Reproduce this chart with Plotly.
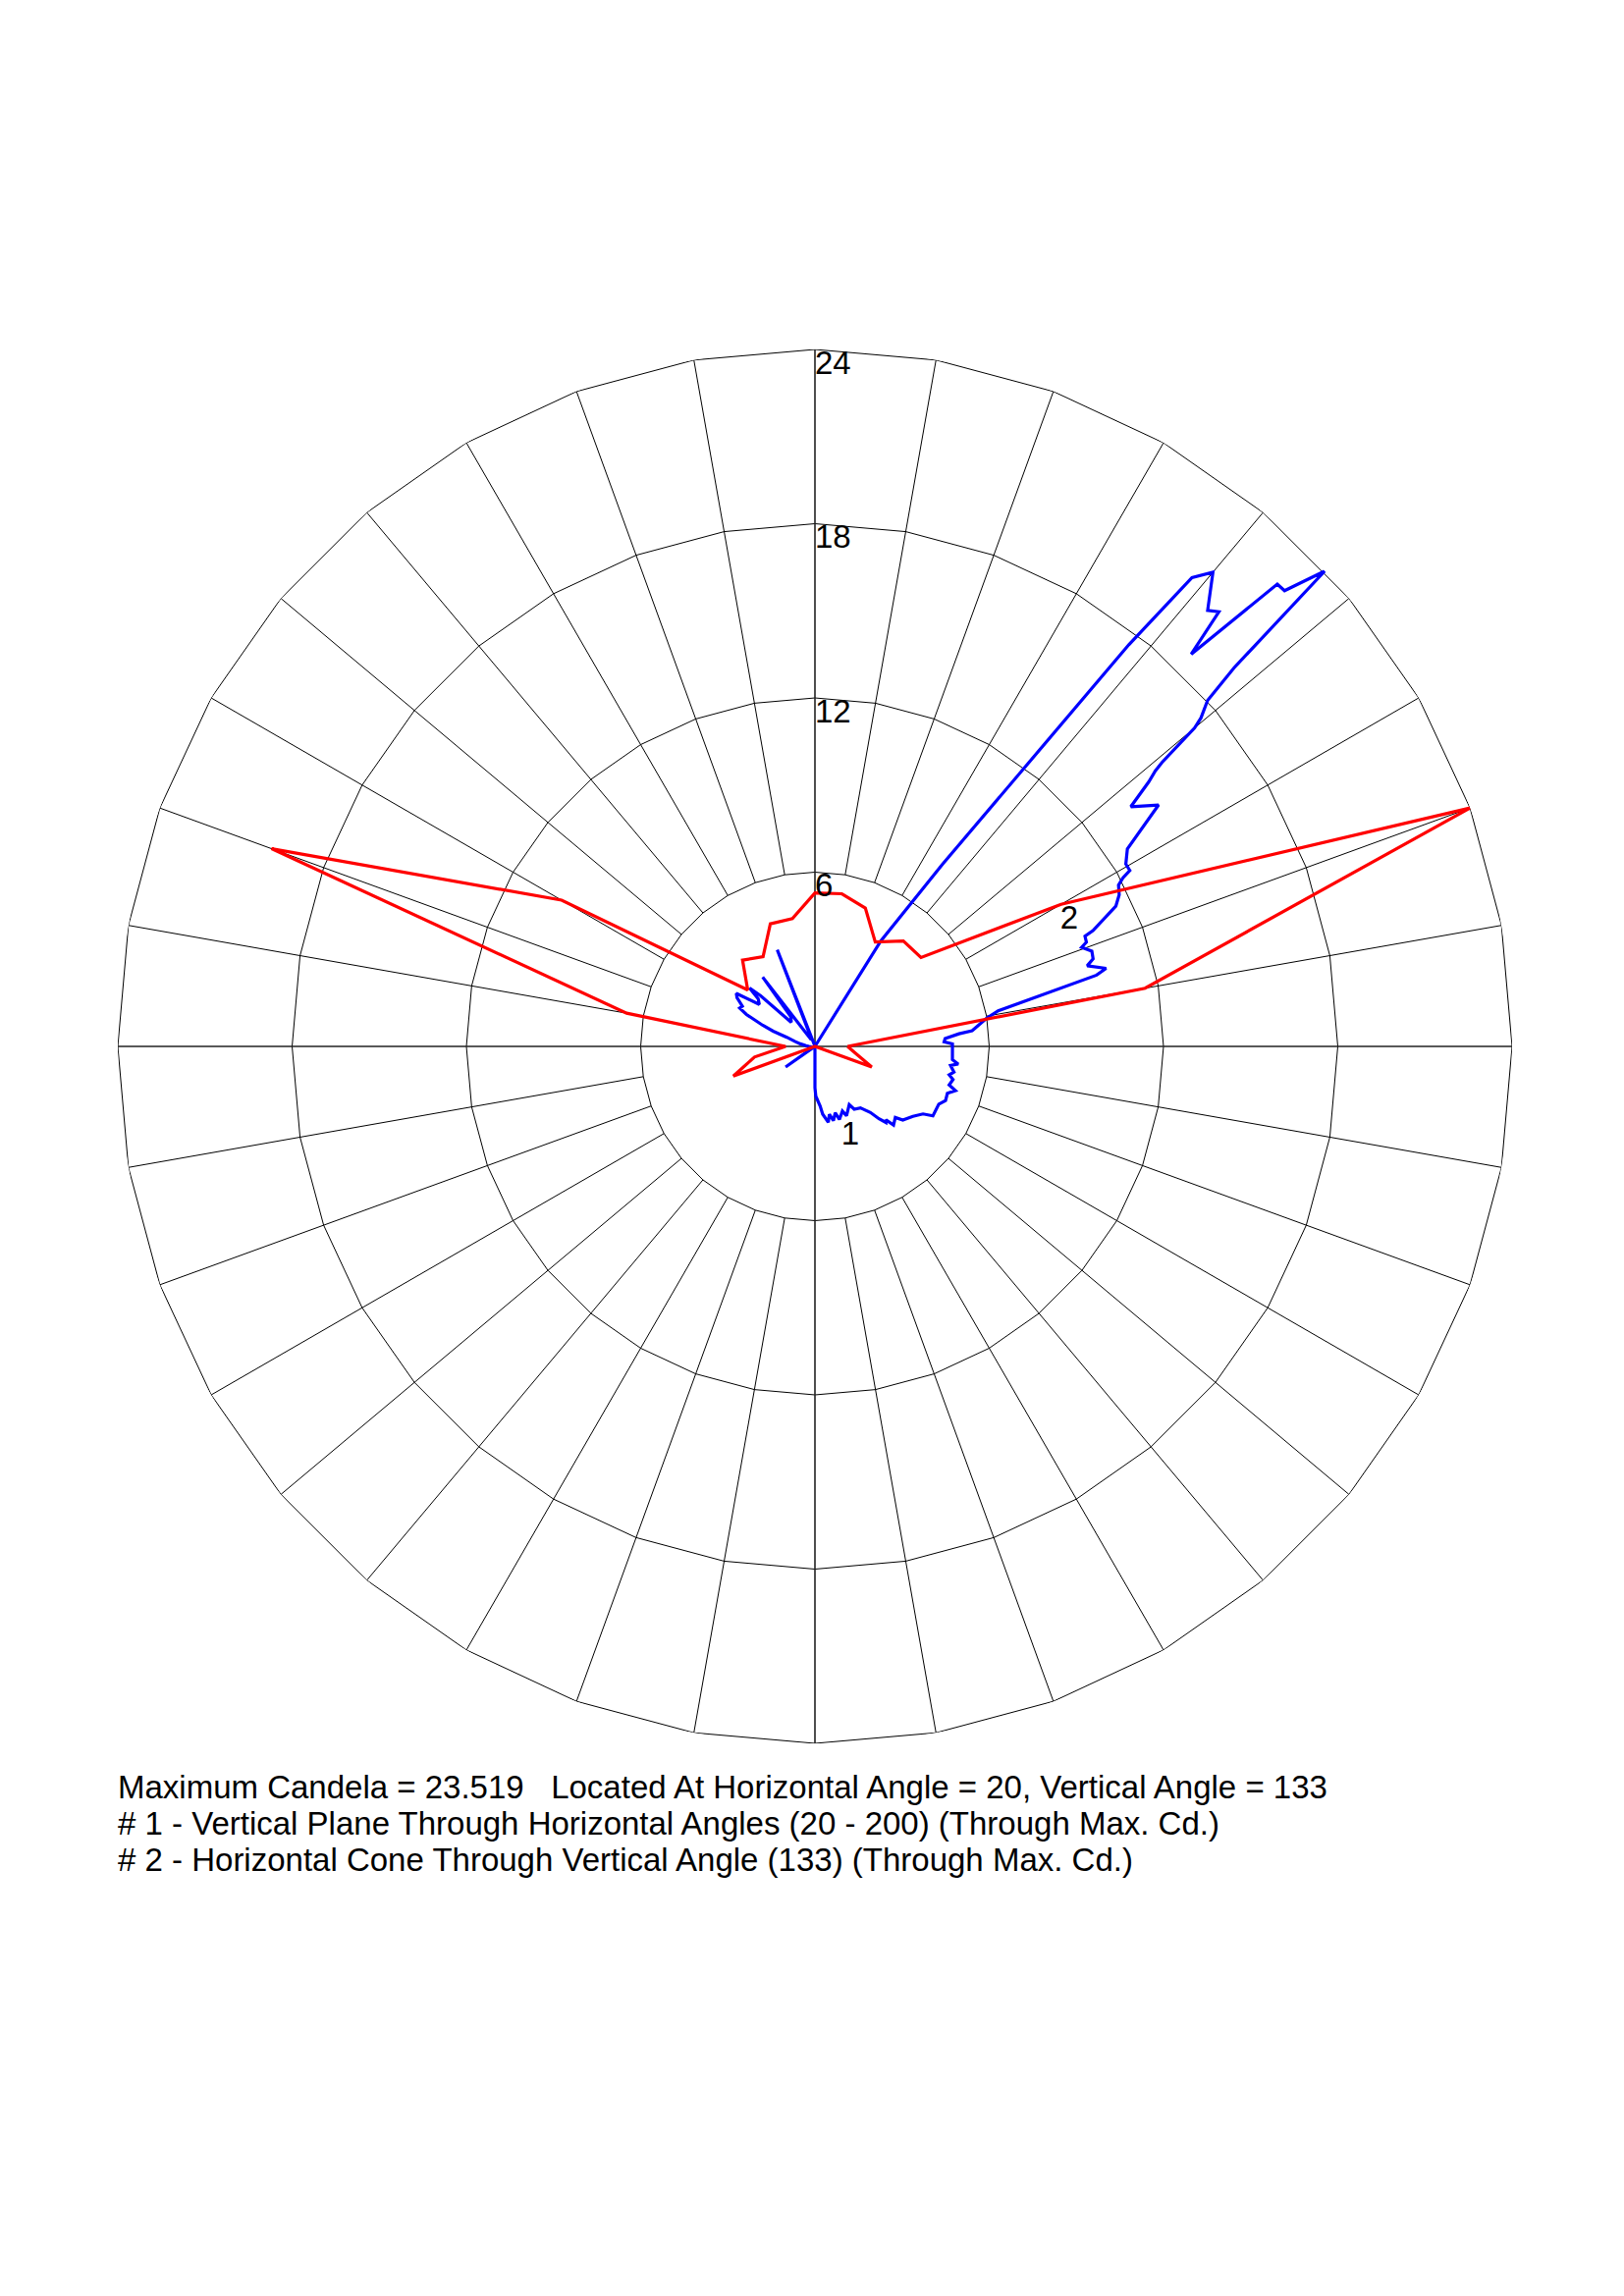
import plotly.graph_objects as go

# ---------------- data ----------------
R_MAX = 23.519                      # maximum candela (outer ring)
ring_values = [R_MAX * k / 4 for k in (1, 2, 3, 4)]
ring_labels = ["6", "12", "18", "24"]

# Curve #2 : horizontal cone through vertical angle 133 (horizontal angle, candela)
red_h = [0, 10, 20, 30, 40, 50, 60, 70, 80, 90, 100, 110, 120, 130, 140, 150, 160, 170,
         180, 190, 200, 210, 220, 230, 240, 250, 260, 270, 280, 290, 300, 310, 320, 330,
         340, 350, 360]
red_cd = [1.10, 11.31, 23.519, 9.59, 4.67, 4.64, 4.07, 4.97, 5.23, 5.18, 4.38, 4.40, 3.50,
          3.80, 2.96, 9.87, 19.51, 6.45, 0.99, 2.07, 2.93, 0, 0, 0, 0, 0, 0, 0, 0, 0, 0, 0,
          0, 0, 2.04, 1.40, 1.10]

# Curve #1 : vertical plane, horizontal angle 20 side (vertical angle, candela)
blue20_v = [0, 0, 1, 5, 6.5, 10, 12, 14, 17, 18.5, 23, 24.5, 30.5, 32, 36.5, 40, 41.5, 43, 44,
            45, 48.5, 50, 54.5, 58, 59.5, 65, 67.5, 70.5, 72.5, 74, 76.5, 78, 79.5, 82, 83,
            84.5, 91, 92, 93.5, 95, 95.7, 99.3, 101, 104.2, 105, 106.5, 107.5, 109, 110.4,
            111, 112.2, 112.6, 115, 116.5, 118, 118.7, 119.2, 120.4, 122.3, 125.1, 127.2,
            128.4, 129.0, 129.3, 130.0, 130.4, 131.4, 132.1, 133.0, 134.15, 135.0, 136.2,
            137.1, 138.0, 140.0, 141.2, 142, 145, 148, 150, 180]
blue20_cd = [0, 1.40, 1.68, 2.02, 2.30, 2.60, 2.34, 2.58, 2.34, 2.60, 2.37, 2.57, 2.28, 2.50,
             2.58, 2.91, 3.26, 3.51, 3.45, 3.75, 3.62, 3.87, 4.06, 4.30, 4.62, 4.61, 4.77,
             4.74, 4.97, 4.71, 4.79, 4.63, 4.77, 4.62, 4.87, 4.66, 4.64, 4.36, 4.40, 4.88,
             5.33, 5.87, 6.30, 9.80, 10.17, 9.58, 9.84, 9.88, 9.60, 9.81, 9.84, 10.16, 11.20,
             11.47, 11.60, 11.85, 12.17, 12.16, 12.47, 14.17, 13.38, 14.37, 14.78, 15.13,
             16.72, 17.10, 17.66, 19.06, 23.519, 22.08, 22.06, 18.34, 20.02, 19.80, 20.89,
             20.30, 17.2, 7.5, 4.2, 0, 0]

# Curve #1 : vertical plane, horizontal angle 200 side (vertical angle, candela)
blue200_v = [180, 165, 162, 158.7, 155, 150, 145, 143, 141, 138, 135.5, 133, 131.8, 130,
             127, 124, 122, 119, 117, 115, 112, 110, 108, 104, 100, 95, 90, 60, 57, 55, 53, 0]
blue200_cd = [0, 0, 0.05, 3.50, 0.3, 0.3, 0.8, 2.93, 1.3, 1.2, 1.14, 2.5, 2.96, 2.5, 2.35,
              3.2, 3.1, 2.8, 2.85, 2.55, 1.9, 1.5, 1.0, 0.7, 0.5, 0.3, 0.2, 0.05, 0.1, 1.21,
              0.1, 0]

curve_labels = ["1", "2"]
curve_label_r = [3.27, 9.57]
curve_label_theta = [-68.6, 26.3]

caption = [
    "Maximum Candela = 23.519\u00a0\u00a0\u00a0Located At Horizontal Angle = 20, Vertical Angle = 133",
    "# 1 - Vertical Plane Through Horizontal Angles (20 - 200) (Through Max. Cd.)",
    "# 2 - Horizontal Cone Through Vertical Angle (133) (Through Max. Cd.)",
]

# ---------------- figure ----------------
W, H = 1654, 2339
CX, CY, RAD = 830, 1066, 710
FONT = "Liberation Sans, Arial"

fig = go.Figure()

# grid: polygonal rings (vertices every 10 deg)
ring_r, ring_t = [], []
for rv in ring_values:
    for a in range(0, 361, 10):
        ring_r.append(rv)
        ring_t.append(a)
    ring_r.append(None)
    ring_t.append(None)
fig.add_trace(go.Scatterpolar(r=ring_r, theta=ring_t, mode="lines",
                              line=dict(color="#000000", width=1), hoverinfo="skip",
                              showlegend=False))
# spokes from inner ring to outer ring
sp_r, sp_t = [], []
for a in range(0, 360, 10):
    if a % 90 == 0:
        continue
    sp_r += [ring_values[0], ring_values[-1], None]
    sp_t += [a, a, None]
fig.add_trace(go.Scatterpolar(r=sp_r, theta=sp_t, mode="lines",
                              line=dict(color="#000000", width=1), hoverinfo="skip",
                              showlegend=False))
# main axes through centre
fig.add_trace(go.Scatterpolar(r=[R_MAX, 0, R_MAX, None, R_MAX, 0, R_MAX],
                              theta=[0, 0, 180, None, 90, 90, 270], mode="lines",
                              line=dict(color="#222222", width=1.6), hoverinfo="skip",
                              showlegend=False))

# curve 1 (blue)
b_theta = [v - 90 for v in blue20_v] + [270 - v for v in blue200_v]
b_r = blue20_cd + blue200_cd
fig.add_trace(go.Scatterpolar(r=b_r, theta=b_theta, mode="lines",
                              line=dict(color="#0000ff", width=3.2), showlegend=False))
# curve 2 (red)
fig.add_trace(go.Scatterpolar(r=red_cd, theta=red_h, mode="lines",
                              line=dict(color="#ff0000", width=3.2), showlegend=False))

# ring labels
fig.add_trace(go.Scatterpolar(r=ring_values, theta=[90] * 4, mode="text", text=ring_labels,
                              textposition="bottom right",
                              textfont=dict(family=FONT, size=33, color="#000000"),
                              hoverinfo="skip", showlegend=False))
# curve labels
fig.add_trace(go.Scatterpolar(r=curve_label_r, theta=curve_label_theta,
                              mode="text", text=curve_labels, textposition="middle center",
                              textfont=dict(family=FONT, size=33, color="#000000"),
                              hoverinfo="skip", showlegend=False))

fig.update_layout(
    width=W, height=H, margin=dict(l=0, r=0, t=0, b=0),
    paper_bgcolor="white", plot_bgcolor="white",
    polar=dict(
        domain=dict(x=[(CX - RAD) / W, (CX + RAD) / W],
                    y=[1 - (CY + RAD) / H, 1 - (CY - RAD) / H]),
        bgcolor="white",
        radialaxis=dict(range=[0, R_MAX], visible=False, showgrid=False, showline=False,
                        ticks=""),
        angularaxis=dict(visible=False, showgrid=False, showline=False, ticks="",
                         rotation=0, direction="counterclockwise"),
    ),
)

for i, line in enumerate(caption):
    fig.add_annotation(text=line, xref="paper", yref="paper", x=118 / W,
                       y=1 - (1820 + 37 * i) / H, xanchor="left", yanchor="middle",
                       showarrow=False,
                       font=dict(family=FONT, size=33, color="#000000"))

fig.write_html("out.html")
